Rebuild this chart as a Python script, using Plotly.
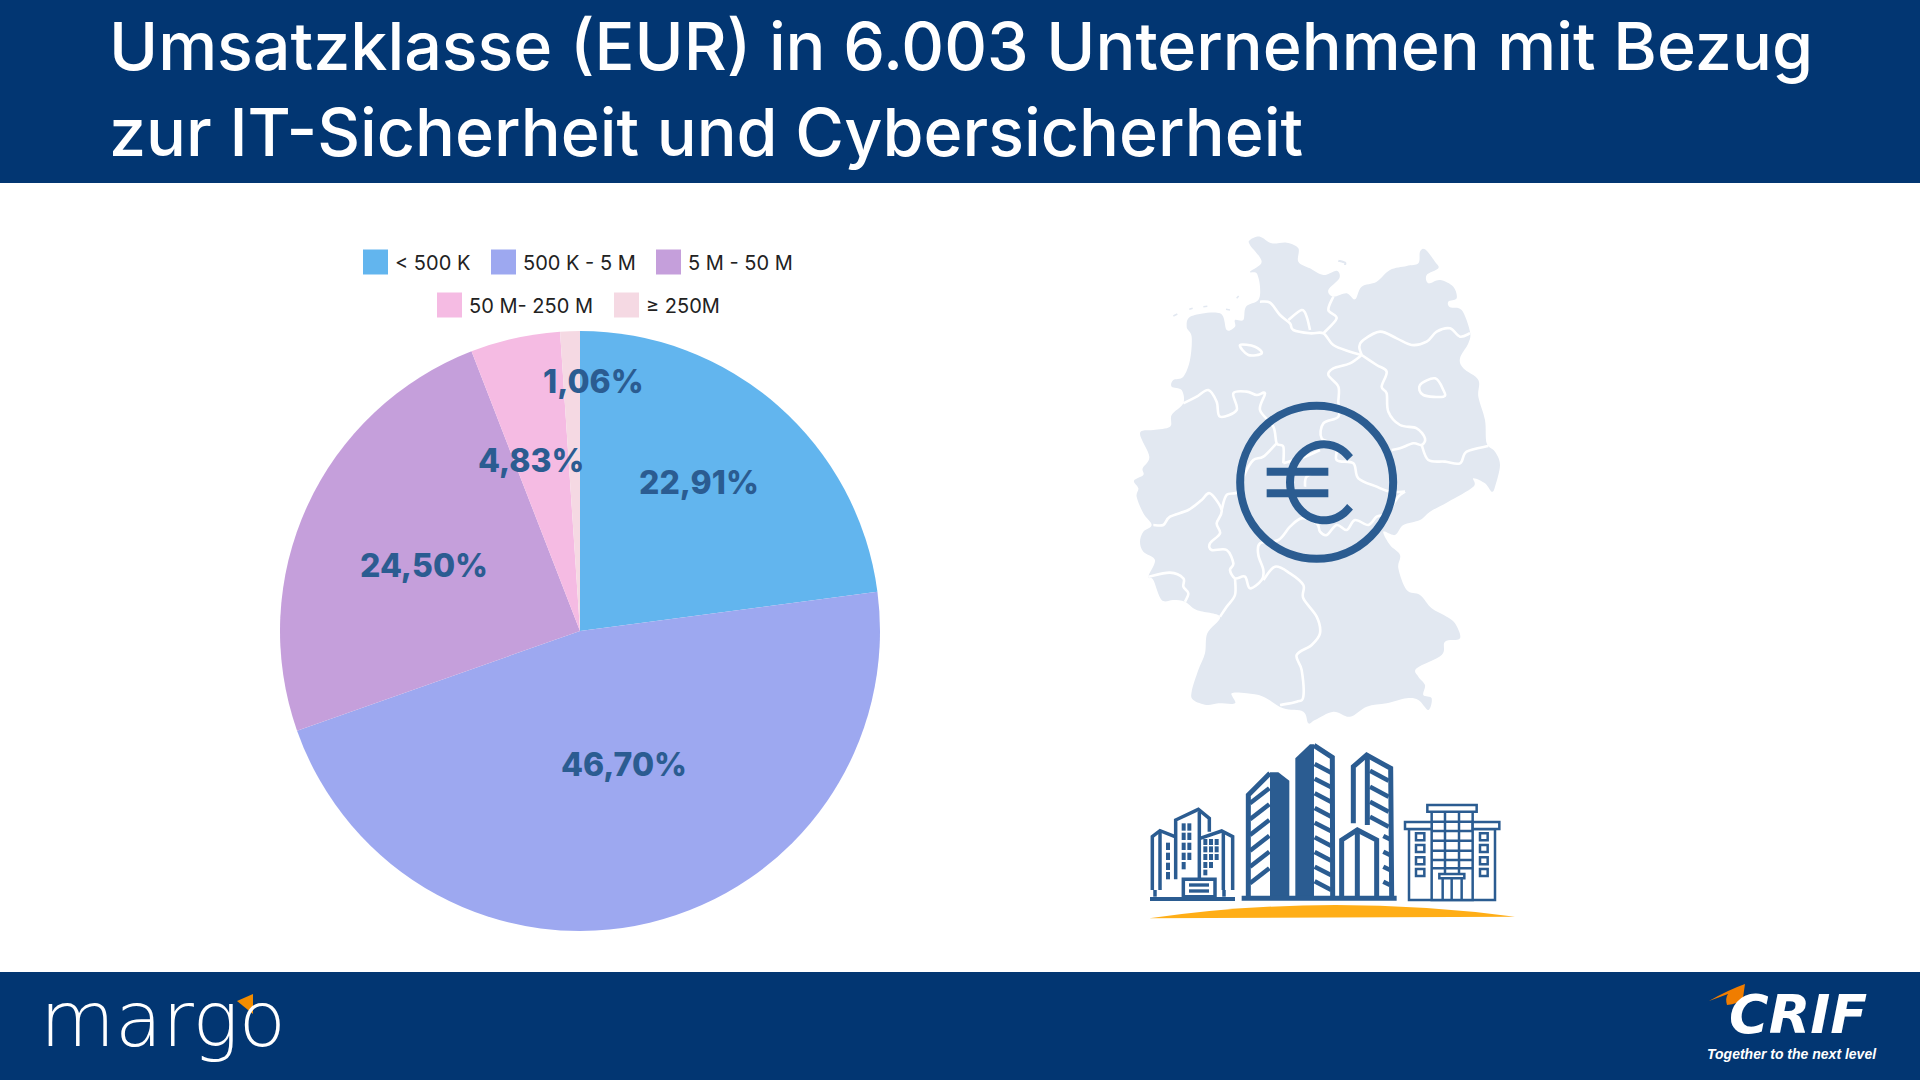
import numpy as np
import plotly.graph_objects as go

# Daten
klassen = ["< 500 K", "500 K - 5 M", "5 M - 50 M", "50 M- 250 M", "≥ 250M"]
anteile = [22.91, 46.70, 24.50, 4.83, 1.06]
farben = ["#62B5EE", "#9DA8F0", "#C59FDB", "#F5BBE3", "#F5D9E3"]
titel = ["Umsatzklasse (EUR) in 6.003 Unternehmen mit Bezug",
         "zur IT-Sicherheit und Cybersicherheit"]

W, H = 1920, 1080
NAVY = "#023672"
BLAU = "#2B5C91"
KARTE = "#E2E8F1"
ORANGE = "#FFAE17"
LEER = "rgba(0,0,0,0)"


# Pixel -> paper
def pt(x, y):
    return f"{x / W:.5f},{1 - y / H:.5f}"


def poly(punkte, zu=False):
    s = "M" + "L".join(pt(x, y) for x, y in punkte)
    return s + ("Z" if zu else "")


# Catmull-Rom als Bezier, damit die Karte weich aussieht
def weich(punkte, zu=False):
    n = len(punkte)
    s = "M" + pt(*punkte[0])
    ende = n if zu else n - 1
    for i in range(ende):
        if zu:
            p0, p1, p2, p3 = punkte[i - 1], punkte[i], punkte[(i + 1) % n], punkte[(i + 2) % n]
        else:
            p0, p1, p2, p3 = punkte[max(i - 1, 0)], punkte[i], punkte[i + 1], punkte[min(i + 2, n - 1)]
        c1 = (p1[0] + (p2[0] - p0[0]) / 6, p1[1] + (p2[1] - p0[1]) / 6)
        c2 = (p2[0] - (p3[0] - p1[0]) / 6, p2[1] - (p3[1] - p1[1]) / 6)
        s += "C" + pt(*c1) + " " + pt(*c2) + " " + pt(*p2)
    return s + ("Z" if zu else "")


def km(pts):
    return [(1120 + x / 3, 230 + y / 3) for x, y in pts]


def gb(pts):
    return [(1120 + x / 3, 720 + y / 3) for x, y in pts]


shapes = []


def form(pfad, farbe=LEER, linie=None, breite=0):
    shapes.append(dict(type="path", xref="paper", yref="paper", path=pfad, fillcolor=farbe,
                       line=dict(color=linie or LEER, width=breite)))


def rechteck(x0, y0, x1, y1, farbe, linie=None, breite=0):
    shapes.append(dict(type="rect", xref="paper", yref="paper", x0=x0 / W, x1=x1 / W,
                       y0=1 - y0 / H, y1=1 - y1 / H, fillcolor=farbe,
                       line=dict(color=linie or LEER, width=breite)))


# Kopf und Fuss
rechteck(0, 0, W, 183, NAVY)
rechteck(0, 972, W, H, NAVY)

# Deutschland
umriss = [(390, 30), (420, 20), (455, 40), (500, 38), (535, 55), (535, 95), (570, 115), (610, 135), (650, 122),
          (658, 145), (625, 180), (640, 200), (680, 190), (705, 208), (725, 170), (770, 155), (810, 120), (860, 108),
          (895, 100), (900, 65), (915, 58), (945, 95), (955, 115), (920, 135), (925, 160), (960, 150), (1000, 170),
          (1010, 205), (985, 215), (990, 232), (1025, 240), (1050, 305), (1045, 340), (1020, 385), (1030, 415),
          (1075, 450), (1075, 500), (1095, 570), (1100, 640), (1125, 665), (1140, 705), (1125, 770), (1115, 785),
          (1095, 760), (1060, 745), (1060, 770), (985, 815), (930, 845), (900, 870), (850, 885), (825, 915), (790, 905),
          (810, 945), (840, 975), (835, 1015), (860, 1080), (900, 1095), (935, 1135), (980, 1160), (1005, 1180),
          (1020, 1225), (975, 1235), (965, 1275), (890, 1315), (895, 1340), (915, 1365), (910, 1395), (935, 1405),
          (925, 1440), (895, 1410), (860, 1405), (800, 1420), (740, 1430), (690, 1460), (640, 1445), (585, 1470),
          (565, 1480), (550, 1445), (490, 1435), (430, 1400), (380, 1390), (335, 1390), (345, 1420), (295, 1420),
          (260, 1425), (220, 1410), (215, 1385), (235, 1320), (255, 1270), (262, 1210), (300, 1160), (230, 1140),
          (195, 1115), (160, 1110), (125, 1110), (100, 1050), (85, 1040), (105, 990), (70, 965), (60, 935), (70, 905),
          (95, 885), (70, 850), (50, 800), (55, 775), (42, 752), (70, 735), (68, 715), (88, 680), (60, 610), (100, 600),
          (150, 590), (155, 555), (190, 520), (185, 480), (155, 470), (160, 450), (190, 440), (210, 390), (215, 320),
          (200, 290), (215, 258), (300, 250), (320, 300), (345, 290), (345, 270), (370, 270), (378, 230), (415, 210),
          (420, 170), (410, 130), (390, 125), (425, 95), (390, 45)]
form(weich(km(umriss), True), KARTE)

grenzen = [
    [(420, 215), (450, 218), (480, 255), (510, 280), (520, 300), (570, 310), (610, 310), (640, 345), (690, 365), (725, 375)],
    [(505, 270), (545, 240), (560, 260), (570, 300)],
    [(640, 200), (625, 240), (650, 265), (610, 310)],
    [(1050, 310), (1020, 320), (990, 295), (950, 305), (920, 335), (875, 345), (830, 325), (780, 305), (730, 330), (718, 350), (725, 375)],
    [(725, 375), (690, 400), (640, 415), (625, 435), (655, 470), (655, 515), (655, 560), (610, 580), (605, 625), (650, 645),
     (650, 690), (700, 700), (715, 745), (770, 770), (810, 785), (855, 785)],
    [(725, 375), (770, 405), (800, 425), (785, 470), (800, 490), (805, 545), (840, 585), (890, 595), (915, 625), (905, 645), (880, 640), (840, 655), (815, 660)],
    [(905, 645), (925, 690), (975, 695), (1020, 700), (1040, 665), (1105, 648)],
    [(855, 785), (835, 800), (800, 850), (770, 860), (745, 885), (705, 870), (680, 900), (650, 885), (620, 915), (600, 905),
     (590, 880), (545, 865), (510, 890), (475, 930), (420, 940), (415, 975), (430, 1020), (425, 1050), (390, 1075), (375, 1040),
     (345, 1045), (330, 1020), (340, 1000), (320, 960), (275, 960), (270, 940), (300, 910), (290, 880), (305, 840), (270, 790),
     (245, 810), (205, 840), (150, 860), (130, 885), (100, 885)],
    [(190, 520), (230, 500), (265, 480), (290, 515), (300, 560), (350, 540), (340, 490), (380, 485), (410, 495), (435, 490),
     (420, 540), (460, 590), (470, 640), (490, 650), (490, 700)],
    [(470, 640), (430, 680), (400, 690), (375, 730), (355, 785), (320, 795), (305, 840)],
    [(490, 700), (555, 680), (600, 660)],
    [(555, 770), (560, 740), (600, 720)],
    [(85, 1040), (150, 1028), (190, 1045), (190, 1070), (205, 1090), (195, 1115)],
    [(345, 1045), (345, 1095), (320, 1130), (300, 1160)],
    [(430, 1050), (465, 1010), (510, 1030), (550, 1065), (550, 1105), (590, 1160), (600, 1210), (575, 1245), (530, 1275), (545, 1320), (550, 1400), (530, 1415), (480, 1425)],
]
for g in grenzen:
    form(weich(km(g)), LEER, "white", 2.6)
form(weich(km([(900, 465), (945, 445), (970, 480), (970, 500), (910, 495)]), True), LEER, "white", 2.6)
form(weich(km([(360, 345), (405, 350), (425, 370), (385, 375)]), True), LEER, "white", 2.6)
form(weich(km([(655, 92), (675, 98), (675, 105)])), LEER, KARTE, 2)
for a, b in [((160, 258), (172, 252)), ((208, 238), (218, 235)), ((250, 230), (262, 229)), ((318, 238), (330, 240)), ((350, 205), (356, 198))]:
    form(poly(km([a, b])), LEER, KARTE, 1.5)

# Euro-Zeichen
mx, my = km([(590, 757)])[0]
shapes.append(dict(type="circle", xref="paper", yref="paper", x0=(mx - 76.5) / W, x1=(mx + 76.5) / W,
                   y0=1 - (my + 76.5) / H, y1=1 - (my - 76.5) / H, fillcolor=LEER, line=dict(color=BLAU, width=8)))
ex, ey = km([(612, 757)])[0]
winkel = np.radians(np.arange(-40, -326, -14))
form(weich(list(zip(ex + 34 * np.cos(winkel), ey + 38 * np.sin(winkel)))), LEER, BLAU, 8)
form(poly(km([(440, 725), (625, 725)])), LEER, BLAU, 8)
form(poly(km([(440, 790), (625, 790)])), LEER, BLAU, 8)

# Gebaeude links
form(poly(gb([(97, 510), (97, 350), (120, 332), (165, 350)])), LEER, BLAU, 3.5)
form(poly(gb([(120, 335), (120, 510)])), LEER, BLAU, 3.5)
form(poly(gb([(167, 478), (167, 300), (235, 268), (268, 295), (268, 335)])), LEER, BLAU, 3.5)
form(poly(gb([(238, 275), (238, 475)])), LEER, BLAU, 3.5)
form(poly(gb([(240, 355), (305, 333), (338, 350), (338, 510)])), LEER, BLAU, 3.5)
form(poly(gb([(310, 338), (310, 510)])), LEER, BLAU, 3.5)
for y in [368, 398, 428, 456]:
    rechteck(*gb([(138, y)])[0], *gb([(150, y + 22)])[0], BLAU)
for x in [185, 202]:
    for y in [310, 338, 368, 398]:
        rechteck(*gb([(x, y)])[0], *gb([(x + 12, y + 22)])[0], BLAU)
rechteck(*gb([(185, 426)])[0], *gb([(197, 448)])[0], BLAU)
for x in [250, 267, 284]:
    for y in [357, 379, 402]:
        rechteck(*gb([(x, y)])[0], *gb([(x + 12, y + 18)])[0], BLAU)
for x in [250, 267]:
    rechteck(*gb([(x, 426)])[0], *gb([(x + 12, 444)])[0], BLAU)
rechteck(*gb([(250, 449)])[0], *gb([(262, 466)])[0], BLAU)
rechteck(*gb([(190, 478)])[0], *gb([(285, 530)])[0], "white", BLAU, 3.5)
rechteck(*gb([(207, 490)])[0], *gb([(267, 500)])[0], BLAU)
rechteck(*gb([(207, 508)])[0], *gb([(267, 518)])[0], BLAU)
form(poly(gb([(105, 510), (105, 530)])), LEER, BLAU, 3.5)
form(poly(gb([(312, 510), (312, 530)])), LEER, BLAU, 3.5)
form(poly(gb([(90, 537), (345, 537)])), LEER, BLAU, 4)

# Hochhaeuser
form(poly(gb([(385, 530), (385, 225), (450, 160)])), LEER, BLAU, 5)
form(poly(gb([(450, 157), (475, 157), (508, 182), (508, 530), (450, 530)]), True), BLAU)
for y in [250, 298, 345, 392, 440, 490]:
    form(poly(gb([(390, y), (448, y - 45)])), LEER, BLAU, 4.5)
form(poly(gb([(526, 530), (526, 115), (570, 73), (582, 73), (582, 530)]), True), BLAU)
form(poly(gb([(582, 76), (637, 112), (638, 530)])), LEER, BLAU, 5)
for y in [132, 176, 220, 264, 308, 352, 396, 440, 484]:
    form(poly(gb([(584, y), (634, y + 26)])), LEER, BLAU, 4.5)
form(poly(gb([(700, 310), (700, 140), (740, 105), (812, 145), (815, 530)])), LEER, BLAU, 5)
form(poly(gb([(742, 110), (742, 315)])), LEER, BLAU, 5)
for y in [152, 200, 245, 290]:
    form(poly(gb([(750, y), (806, y + 30)])), LEER, BLAU, 4.5)
for y in [348, 395, 440, 485]:
    form(poly(gb([(790, y), (810, y + 10)])), LEER, BLAU, 4.5)
form(poly(gb([(665, 530), (665, 360), (712, 330), (770, 360), (770, 530)])), "white", BLAU, 5)
form(poly(gb([(712, 335), (712, 530)])), LEER, BLAU, 5)
form(poly(gb([(365, 535), (830, 535)])), LEER, BLAU, 5)

# Gebaeude rechts
rechteck(*gb([(867, 327)])[0], *gb([(1125, 540)])[0], LEER, BLAU, 2.5)
rechteck(*gb([(935, 275)])[0], *gb([(1058, 540)])[0], "white", BLAU, 2.5)
rechteck(*gb([(922, 255)])[0], *gb([(1070, 275)])[0], "white", BLAU, 2.5)
rechteck(*gb([(855, 306)])[0], *gb([(935, 327)])[0], "white", BLAU, 2.5)
rechteck(*gb([(1058, 306)])[0], *gb([(1138, 327)])[0], "white", BLAU, 2.5)
for x in [975, 1017]:
    form(poly(gb([(x, 275), (x, 462)])), LEER, BLAU, 2.5)
for y in [305, 333, 362, 392, 420, 445]:
    form(poly(gb([(935, y), (1058, y)])), LEER, BLAU, 2.5)
for y in [340, 375, 412, 447]:
    rechteck(*gb([(888, y)])[0], *gb([(913, y + 21)])[0], LEER, BLAU, 2.5)
    rechteck(*gb([(1080, y)])[0], *gb([(1103, y + 21)])[0], LEER, BLAU, 2.5)
rechteck(*gb([(958, 462)])[0], *gb([(1033, 475)])[0], "white", BLAU, 2.5)
for x in [968, 995, 1025]:
    form(poly(gb([(x, 475), (x, 540)])), LEER, BLAU, 2.5)

# Huegel
a, b = gb([(88, 595)])[0], gb([(1185, 590)])[0]
s = gb([(620, 518)])[0]
form("M" + pt(*a) + "Q" + pt(*s) + " " + pt(*b) + "Z", ORANGE)

# Logos
form(poly([(237, 1001), (253, 994), (253, 1014)], True), "#F28C00")
form("M" + pt(1709, 1001) + "Q" + pt(1728, 990) + " " + pt(1745, 984) + "L" + pt(1743, 998)
     + "Q" + pt(1738, 1004) + " " + pt(1727, 1005) + "Q" + pt(1725, 998) + " " + pt(1728, 994) + "Z", "#F07D00")

# Legende
legende_x = [363, 491, 656, 437, 614]
legende_y = [262, 262, 262, 305, 305]
annos = []
for name, farbe, x, y in zip(klassen, farben, legende_x, legende_y):
    rechteck(x, y - 12.5, x + 25, y + 12.5, farbe)
    annos.append(dict(text=name, x=(x + 31) / W, y=1 - (y + 1) / H, xanchor="left", yanchor="middle",
                      font=dict(family="Inter", size=20, color="#222222")))

# Prozentwerte
label_pos = [(699, 483), (624, 764), (424, 565), (531, 460), (593, 382)]
for wert, (x, y) in zip(anteile, label_pos):
    annos.append(dict(text=f"{wert:.2f}%".replace(".", ","), x=x / W, y=1 - y / H, xanchor="center", yanchor="middle",
                      font=dict(family="Inter", size=32, color=BLAU, weight=800)))

# Titel
for zeile, y in zip(titel, [46, 132]):
    annos.append(dict(text=zeile, x=108 / W, y=1 - y / H, xanchor="left", yanchor="middle",
                      font=dict(family="Inter", size=66.4, color="white", weight=500)))

annos.append(dict(text="margo", x=39 / W, y=1 - 1019 / H, xanchor="left", yanchor="middle",
                  font=dict(family="DejaVu Sans", size=77, color="white", weight=200)))
annos.append(dict(text="CRIF", x=1798 / W, y=1 - 1014 / H, xanchor="center", yanchor="middle",
                  font=dict(family="DejaVu Sans", size=54, color="white", weight=700, style="italic")))
annos.append(dict(text="Together to the next level", x=1792 / W, y=1 - 1054 / H, xanchor="center", yanchor="middle",
                  font=dict(family="Liberation Sans", size=14, color="white", weight=700, style="italic")))
for an in annos:
    an.update(xref="paper", yref="paper", showarrow=False, borderpad=0)

fig = go.Figure(go.Pie(
    labels=klassen, values=anteile, sort=False, direction="clockwise", rotation=0,
    marker=dict(colors=farben, line=dict(width=0)), textinfo="none", hoverinfo="label+percent",
    domain=dict(x=[280 / W, 880 / W], y=[1 - 931 / H, 1 - 331 / H]),
))
fig.update_layout(width=W, height=H, margin=dict(l=0, r=0, t=0, b=0), paper_bgcolor="white",
                  showlegend=False, shapes=shapes, annotations=annos)
fig.write_html("out.html", post_script="document.body.style.margin='0';document.body.style.overflow='hidden';",
               config=dict(displayModeBar=False))
